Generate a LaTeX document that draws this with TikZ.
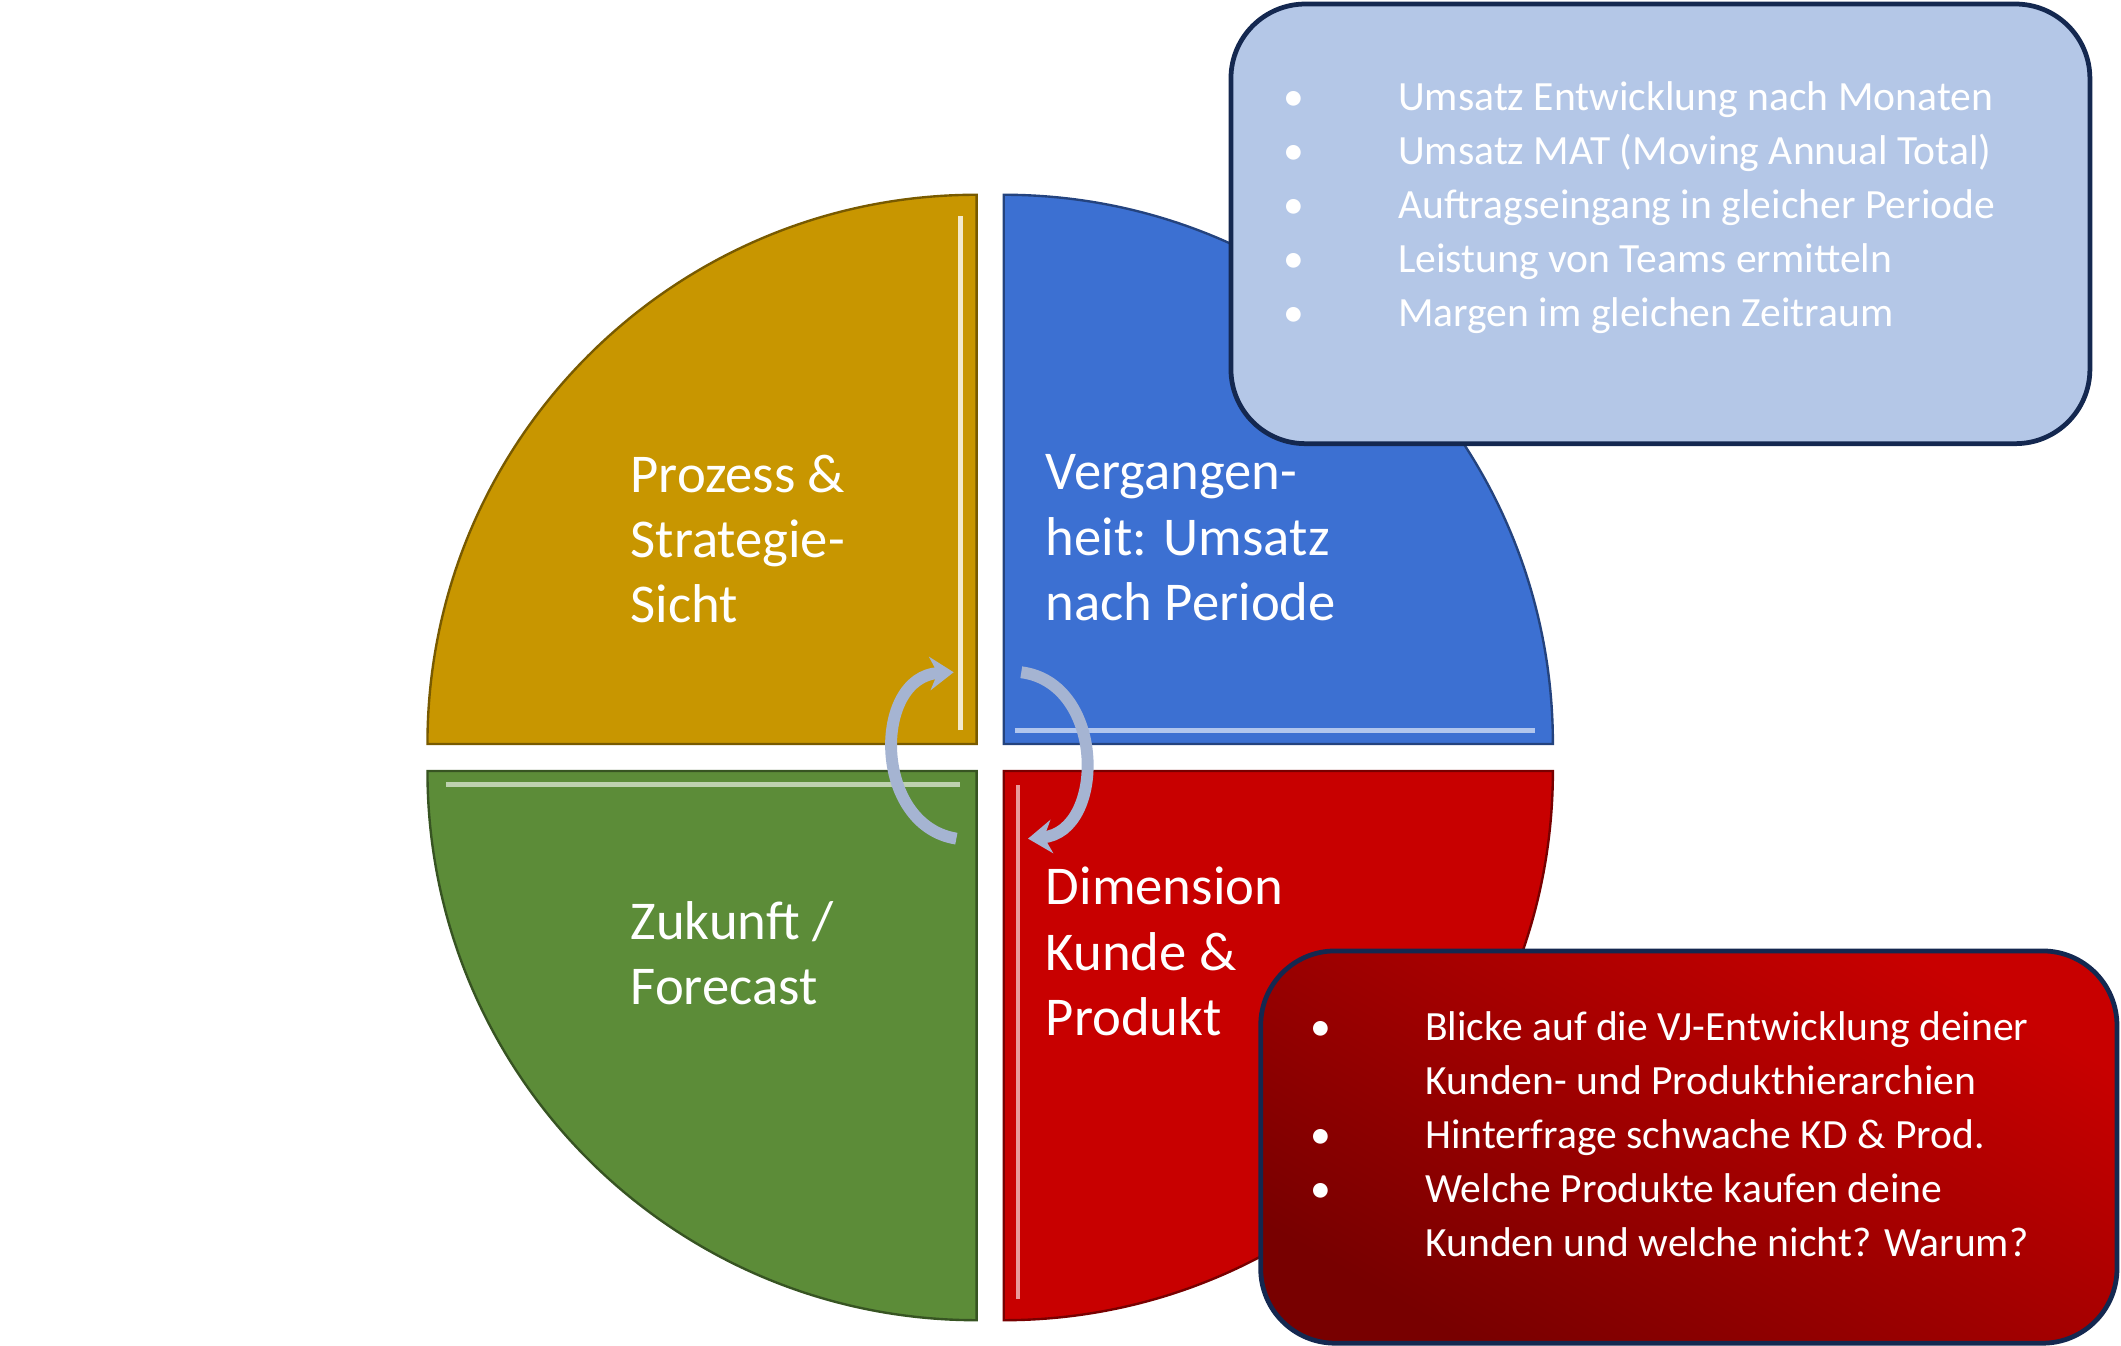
\documentclass[tikz,border=0pt]{standalone}
\usepackage{fontspec}
\setmainfont{Carlito}
\usetikzlibrary{arrows.meta}
\definecolor{qgold}{RGB}{200,150,0}
\definecolor{qblue}{RGB}{60,112,210}
\definecolor{qgreen}{RGB}{92,140,56}
\definecolor{qred}{RGB}{200,0,0}
\definecolor{boxblue}{RGB}{180,199,231}
\definecolor{boxline}{RGB}{20,40,80}
\definecolor{cyclecol}{RGB}{165,180,210}
\tikzset{
  quarter/.style={draw=#1!60!black, line width=1pt, fill=#1},
  qtext/.style={text=white, align=left, anchor=north west,
    font=\fontsize{23}{27.5}\selectfont},
  infobox/.style={draw=boxline, line width=2pt, rounded corners=1.1cm},
  cycle/.style={draw=cyclecol, line width=5pt, -{Stealth[length=10pt,width=14pt]}}
}
\begin{document}
\begin{tikzpicture}
\useasboundingbox (0,0) rectangle (31.36,19.9);
% quadrants
\draw[quarter=qgold] (14.44,8.9) -- ++(0,8.12) arc[start angle=90,end angle=180,radius=8.12cm] -- cycle;
\draw[quarter=qblue] (14.84,8.9) -- ++(8.12,0) arc[start angle=0,end angle=90,radius=8.12cm] -- cycle;
\draw[quarter=qgreen] (14.44,8.5) -- ++(-8.12,0) arc[start angle=180,end angle=270,radius=8.12cm] -- cycle;
\draw[quarter=qred] (14.84,8.5) -- ++(0,-8.12) arc[start angle=270,end angle=360,radius=8.12cm] -- cycle;
% highlights
\draw[white!80!qgold, line width=2pt] (14.2,9.1) -- (14.2,16.7);
\draw[white!60!qblue, line width=2pt] (15.0,9.1) -- (22.7,9.1);
\draw[white!60!qgreen, line width=2pt] (6.6,8.3) -- (14.2,8.3);
\draw[white!60!qred, line width=2pt] (15.05,0.7) -- (15.05,8.3);
% labels
\node[qtext] (prozess) at (9.2,13.3) {Prozess \&\\Strategie-\\Sicht};
\node[qtext] (vergangen) at (15.34,13.3) {Vergangen-\\heit: Umsatz\\nach Periode};
\node[qtext] (zukunft) at (9.2,6.7) {Zukunft /\\Forecast};
\node[qtext] (dimension) at (15.34,7.2) {Dimension\\Kunde \&\\Produkt};
% cycle arrows
\coordinate (la) at (14.14,7.5);
\coordinate (lb) at (14.1,9.96);
\coordinate (ra) at (15.1,9.96);
\coordinate (rb) at (15.2,7.5);
\draw[cycle] (la) .. controls (12.9,7.7) and (12.9,9.9) .. (lb);
\draw[cycle] (ra) .. controls (16.35,9.8) and (16.35,7.6) .. (rb);
% info boxes
\draw[infobox, fill=boxblue] (18.2,13.34) rectangle (30.9,19.84);
\node[anchor=north west, text=white, font=\fontsize{17.5}{22.7}\selectfont] (umsatzlist) at (18.85,18.95) {%
  \begin{tabular}{@{}p{1.7cm}@{}l@{}}
  \textbullet & Umsatz Entwicklung nach Monaten\\
  \textbullet & Umsatz MAT (Moving Annual Total)\\
  \textbullet & Auftragseingang in gleicher Periode\\
  \textbullet & Leistung von Teams ermitteln\\
  \textbullet & Margen im gleichen Zeitraum
  \end{tabular}};
\draw[infobox, left color=qred, right color=qred!60!black, shading angle=-30] (18.64,0.04) rectangle (31.3,5.84);
\node[anchor=north west, text=white, font=\fontsize{17.5}{22.7}\selectfont] (kundenlist) at (19.25,5.2) {%
  \begin{tabular}{@{}p{1.7cm}@{}l@{}}
  \textbullet & Blicke auf die VJ-Entwicklung deiner\\
   & Kunden- und Produkthierarchien\\
  \textbullet & Hinterfrage schwache KD \& Prod.\\
  \textbullet & Welche Produkte kaufen deine\\
   & Kunden und welche nicht? Warum?
  \end{tabular}};
\end{tikzpicture}
\end{document}
